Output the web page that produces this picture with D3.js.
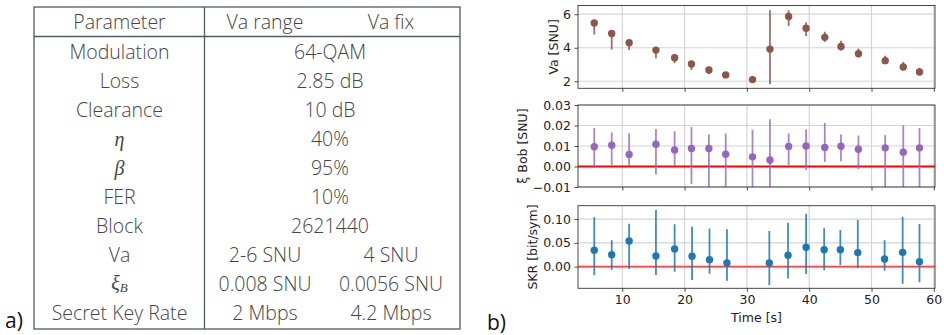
<!DOCTYPE html>
<html>
<head>
<meta charset="utf-8">
<script src="https://cdn.jsdelivr.net/npm/d3@7"></script>
<style>
body { margin: 0; background: white; }
svg { display: block; }
</style>
</head>
<body>
<script>
// table a)
var tableHeader = ["Parameter", "Va range", "Va fix"]
var paramNames = ["Modulation", "Loss", "Clearance", "η", "β", "FER", "Block", "Va", "ξB", "Secret Key Rate"]
var vaRangeCol = ["64-QAM", "2.85 dB", "10 dB", "40%", "95%", "10%", "2621440", "2-6 SNU", "0.008 SNU", "2 Mbps"]
var vaFixCol = ["64-QAM", "2.85 dB", "10 dB", "40%", "95%", "10%", "2621440", "4 SNU", "0.0056 SNU", "4.2 Mbps"]

// plots b)
var time = [5.5, 8.3, 11.1, 15.4, 18.4, 21.1, 23.9, 26.6, 30.9, 33.7, 36.7, 39.5, 42.5, 45.1, 47.9, 52.2, 55.1, 57.7]
var va = [5.48, 4.85, 4.30, 3.86, 3.40, 3.03, 2.67, 2.38, 2.10, 3.92, 5.86, 5.17, 4.62, 4.08, 3.64, 3.23, 2.85, 2.55]
var vaLow = [4.79, 3.90, 3.86, 3.37, 3.09, 2.67, 2.43, 2.30, 2.02, 1.82, 5.29, 4.69, 4.35, 3.82, 3.52, 3.12, 2.76, 2.47]
var vaHigh = [5.58, 4.95, 4.40, 3.95, 3.48, 3.10, 2.74, 2.45, 2.17, 6.24, 6.24, 5.52, 4.95, 4.41, 3.96, 3.52, 3.15, 2.81]

var xi = [0.0096, 0.0104, 0.0059, 0.0109, 0.0081, 0.0088, 0.0088, 0.0060, 0.0047, 0.0032, 0.0098, 0.0100, 0.0093, 0.0099, 0.0084, 0.0091, 0.0070, 0.0091]
var xiLow = [-0.0007, 0.0006, 0.0003, -0.0039, 0.0003, -0.0086, -0.011, -0.011, -0.0105, -0.0165, 0.0008, -0.0017, 0.0022, 0.0026, -0.0013, -0.011, -0.0135, -0.011]
var xiHigh = [0.0188, 0.0166, 0.0162, 0.0183, 0.0172, 0.0192, 0.0156, 0.0161, 0.0179, 0.0231, 0.0161, 0.0182, 0.0213, 0.0156, 0.0151, 0.0153, 0.0201, 0.0187]

var skrTime = [5.5, 8.3, 11.1, 15.4, 18.4, 21.2, 24.0, 26.8, 33.6, 36.6, 39.5, 42.4, 45.0, 47.8, 52.1, 55.0, 57.7]
var skr = [0.0345, 0.0252, 0.0540, 0.0225, 0.0370, 0.0218, 0.0147, 0.0078, 0.0078, 0.0240, 0.0408, 0.0357, 0.0357, 0.0294, 0.0162, 0.0300, 0.0105]
var skrLow = [-0.018, -0.0063, -0.0048, -0.0174, -0.0105, -0.028, -0.0147, -0.0294, -0.0385, -0.025, -0.0153, -0.0077, 0.0036, -0.0035, -0.0084, -0.0357, -0.0328]
var skrHigh = [0.1038, 0.0555, 0.0900, 0.1190, 0.0890, 0.0840, 0.0800, 0.0785, 0.0750, 0.0920, 0.1110, 0.0807, 0.0770, 0.0980, 0.0555, 0.1050, 0.0897]

var xTicks = [10, 20, 30, 40, 50, 60]
var vaTicks = [2, 4, 6]
var xiTicks = [-0.01, 0, 0.01, 0.02, 0.03]
var skrTicks = [0, 0.05, 0.10]

var width = 944
var height = 335

var svg = d3.select("body").append("svg")
	.attr("width", width)
	.attr("height", height)

// ---------- table ----------
var tLeft = 34, tRight = 460, tTop = 7, tBottom = 329, tDiv = 204.5, tHead = 36.5
var tColor = "#4f5d5d"
var textColor = "#454545"
var tFont = "'Open Sans', 'Noto Sans', sans-serif"
var mathFont = "'Liberation Serif', serif"

var tg = svg.append("g")
tg.append("rect").attr("x", tLeft).attr("y", tTop)
	.attr("width", tRight - tLeft).attr("height", tBottom - tTop)
	.attr("fill", "none").attr("stroke", tColor).attr("stroke-width", 1.3)
tg.append("line").attr("x1", tLeft).attr("x2", tRight).attr("y1", tHead).attr("y2", tHead)
	.attr("stroke", tColor).attr("stroke-width", 1.3)
tg.append("line").attr("x1", tDiv).attr("x2", tDiv).attr("y1", tTop).attr("y2", tBottom)
	.attr("stroke", tColor).attr("stroke-width", 1.3)

var colX = [119.5, 265, 391]
var mergedX = 330

var rowY = d3.scaleLinear().domain([0, paramNames.length - 1]).range([51.7, 312.3])

function cellText(x, y, txt) {
	return tg.append("text").attr("x", x).attr("y", y)
		.attr("text-anchor", "middle").attr("dominant-baseline", "central")
		.attr("font-family", tFont).attr("font-weight", 300)
		.attr("font-size", "19.5px").attr("fill", textColor).text(txt)
}

tableHeader.forEach(function(h, i) {
	cellText(colX[i], 21.5, h)
})

paramNames.forEach(function(p, i) {
	var y = rowY(i)
	if (p == "η" || p == "β") {
		cellText(colX[0], y, p).attr("font-family", mathFont).attr("font-style", "italic")
			.attr("font-weight", 400).attr("font-size", "20px")
	} else if (p == "ξB") {
		var t = cellText(colX[0], y, "").attr("font-weight", 400)
		t.append("tspan").text("ξ").attr("font-family", mathFont).attr("font-style", "italic").attr("font-size", "20px")
		t.append("tspan").text("B").attr("font-family", mathFont).attr("font-style", "italic")
			.attr("font-size", "13px").attr("dy", 4)
	} else {
		cellText(colX[0], y, p)
	}
	if (vaRangeCol[i] == vaFixCol[i]) {
		cellText(mergedX, y, vaRangeCol[i])
	} else {
		cellText(colX[1], y, vaRangeCol[i])
		cellText(colX[2], y, vaFixCol[i])
	}
})

svg.append("text").attr("x", 5).attr("y", 328).text("a)")
	.attr("font-family", tFont).attr("font-size", "21px").attr("fill", "#111")
svg.append("text").attr("x", 487).attr("y", 330).text("b)")
	.attr("font-family", tFont).attr("font-size", "21px").attr("fill", "#111")

// ---------- plots ----------
var pLeft = 578, pRight = 935
var x = d3.scaleLinear().domain([2.89, 60.19]).range([pLeft, pRight])
var fmt2 = d3.format(".2f")

function drawPanel(opt) {
	var y = d3.scaleLinear().domain(opt.domain).range([opt.bottom, opt.top])
	var g = svg.append("g")
	var clipId = "clip" + opt.name
	g.append("clipPath").attr("id", clipId).append("rect")
		.attr("x", pLeft).attr("y", opt.top).attr("width", pRight - pLeft).attr("height", opt.bottom - opt.top)

	// grid
	g.append("g").selectAll("line").data(xTicks).enter().append("line")
		.attr("x1", function(d) { return x(d) }).attr("x2", function(d) { return x(d) })
		.attr("y1", opt.top).attr("y2", opt.bottom)
		.attr("stroke", "#d4d4d4").attr("stroke-width", 1.2)
	g.append("g").selectAll("line").data(opt.ticks).enter().append("line")
		.attr("y1", function(d) { return y(d) }).attr("y2", function(d) { return y(d) })
		.attr("x1", pLeft).attr("x2", pRight)
		.attr("stroke", "#d4d4d4").attr("stroke-width", 1.2)

	var plot = g.append("g").attr("clip-path", "url(#" + clipId + ")")
	if (opt.redLine) {
		plot.append("line").attr("x1", pLeft).attr("x2", pRight)
			.attr("y1", y(0)).attr("y2", y(0))
			.attr("stroke", opt.redLine).attr("stroke-width", 1.8)
	}
	var idx = d3.range(opt.t.length)
	plot.append("g").selectAll("line").data(idx).enter().append("line")
		.attr("x1", function(i) { return x(opt.t[i]) }).attr("x2", function(i) { return x(opt.t[i]) })
		.attr("y1", function(i) { return y(opt.lo[i]) }).attr("y2", function(i) { return y(opt.hi[i]) })
		.attr("stroke", opt.color).attr("stroke-width", 1.8).attr("stroke-opacity", opt.errAlpha)
	plot.append("g").selectAll("circle").data(idx).enter().append("circle")
		.attr("cx", function(i) { return x(opt.t[i]) })
		.attr("cy", function(i) { return y(opt.v[i]) })
		.attr("r", 3.7).attr("fill", opt.color)

	// axes
	var xAxis = d3.axisBottom(x).tickValues(xTicks).tickSize(3.5).tickPadding(3.5)
	if (!opt.xLabels) xAxis.tickFormat("")
	var gx = g.append("g").attr("transform", "translate(0," + opt.bottom + ")").call(xAxis)
	var gy = g.append("g").attr("transform", "translate(" + pLeft + ",0)")
		.call(d3.axisLeft(y).tickValues(opt.ticks).tickSize(3.5).tickPadding(3.5).tickFormat(opt.fmt))
	;[gx, gy].forEach(function(a) {
		a.select(".domain").remove()
		a.selectAll(".tick line").attr("stroke", "#333").attr("stroke-width", 0.9)
		a.selectAll(".tick text").attr("fill", "#222").attr("font-size", "12.5px")
			.attr("font-family", "'DejaVu Sans', sans-serif")
	})
	gy.selectAll(".tick text").text(function(d) { return opt.fmt(d).replace("-", "−") })

	g.append("rect").attr("x", pLeft).attr("y", opt.top)
		.attr("width", pRight - pLeft).attr("height", opt.bottom - opt.top)
		.attr("fill", "none").attr("stroke", "#333").attr("stroke-width", 0.9)

	g.append("text")
		.attr("transform", "translate(" + opt.labelX + "," + ((opt.top + opt.bottom) / 2) + ") rotate(-90)")
		.attr("text-anchor", "middle").attr("dominant-baseline", "central")
		.attr("font-family", "'DejaVu Sans', sans-serif").attr("font-size", "12.5px").attr("fill", "#222")
		.text(opt.label)
}

drawPanel({name: "va", top: 5.5, bottom: 88.3, domain: [1.58, 6.52], ticks: vaTicks,
	fmt: d3.format("d"), t: time, v: va, lo: vaLow, hi: vaHigh,
	color: "#8c564b", errAlpha: 0.85, label: "Va [SNU]", labelX: 553, xLabels: false})

drawPanel({name: "xi", top: 105, bottom: 187, domain: [-0.01, 0.03], ticks: xiTicks,
	fmt: fmt2, t: time, v: xi, lo: xiLow, hi: xiHigh,
	color: "#9467bd", errAlpha: 0.8, label: "ξ Bob [SNU]", labelX: 522, xLabels: false, redLine: "#ff0000"})

drawPanel({name: "skr", top: 205.7, bottom: 288.3, domain: [-0.0454, 0.128], ticks: skrTicks,
	fmt: fmt2, t: skrTime, v: skr, lo: skrLow, hi: skrHigh,
	color: "#1f77b4", errAlpha: 0.85, label: "SKR [bit/sym]", labelX: 532, xLabels: true, redLine: "#ff4040"})

svg.append("text").attr("x", (pLeft + pRight) / 2).attr("y", 317)
	.attr("text-anchor", "middle").attr("dominant-baseline", "central")
	.attr("font-family", "'DejaVu Sans', sans-serif").attr("font-size", "12.5px").attr("fill", "#222")
	.text("Time [s]")
</script>
</body>
</html>
